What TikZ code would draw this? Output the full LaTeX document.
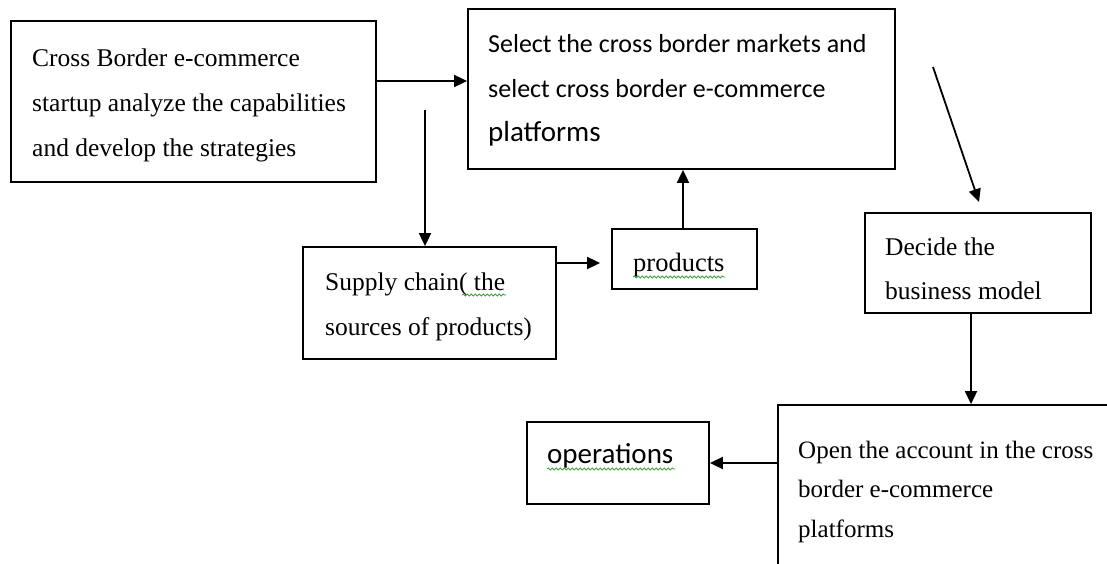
\documentclass[tikz,border=0pt]{standalone}
\usepackage{fontspec}
\setmainfont{Liberation Serif}
\newfontfamily\calibri{Carlito}
\usetikzlibrary{arrows.meta,decorations.pathmorphing}
\definecolor{squiggle}{HTML}{3DA33D}
\begin{document}
\begin{tikzpicture}[x=1pt,y=-1pt,
  box/.style={draw=black,line width=1.8pt,fill=none,inner sep=0pt},
  txt/.style={inner sep=0pt,anchor=base west},
  arr/.style={line width=1.8pt,-{Triangle[length=13pt,width=12pt]}},
  squig/.style={draw=squiggle,line width=0.8pt,decorate,
    decoration={snake,amplitude=1.1pt,segment length=4pt}}]
\fill[white] (0,0) rectangle (1107,564);
\useasboundingbox (0,0) rectangle (1107,564);

% boxes
\node[box,minimum width=365pt,minimum height=161pt] (A) at (193.5,101.5) {};
\node[box,minimum width=427pt,minimum height=160pt] (B) at (681.5,89) {};
\node[box,minimum width=226pt,minimum height=100pt] (C) at (978,263) {};
\node[box,minimum width=342pt,minimum height=175pt] (D) at (949,492.5) {};
\node[box,minimum width=253pt,minimum height=112pt] (E) at (429.5,303) {};
\node[box,minimum width=145pt,minimum height=60pt] (F) at (684.5,259) {};
\node[box,minimum width=182pt,minimum height=82pt] (Ops) at (618,463) {};

% texts
\node[txt] (At) at (32,67) {\parbox[t]{500pt}{\raggedright\fontsize{25.5}{45}\selectfont
  Cross Border e-commerce\\ startup analyze the capabilities\\ and develop the strategies}};
\node[txt] (Bt) at (488,53) {\parbox[t]{500pt}{\raggedright\calibri\fontsize{26}{45}\selectfont
  Select the cross border markets and\\ select cross border e-commerce\\[-1pt]
  {\fontsize{29}{45}\selectfont platforms}}};
\node[txt] (Ct) at (885,255) {\parbox[t]{500pt}{\raggedright\fontsize{25.5}{44}\selectfont
  Decide the\\ business model}};
\node[txt] (Dt) at (798,458) {\parbox[t]{500pt}{\raggedright\fontsize{25}{39.5}\selectfont
  Open the account in the cross\\ border e-commerce\\ platforms}};
\node[txt] (Et) at (325,290) {\parbox[t]{500pt}{\raggedright\fontsize{25.5}{45}\selectfont
  Supply chain( the\\ sources of products)}};
\node[txt] (Ft) at (633,271) {\fontsize{26.5}{30}\selectfont products};
\node[txt] (Opst) at (547,463) {\calibri\fontsize{29}{34}\selectfont operations};

% spelling underlines
\draw[squig] (633,277) -- (725,277);
\draw[squig] (462,295) -- (506,295);
\draw[squig] (547,469) -- (675,469);

% connectors
\coordinate (s1) at (425,110);
\coordinate (d1) at (933,67);
\coordinate (d2) at (979,202);
\draw[arr] ([yshift=20.5pt]A.east) -- ([yshift=20.5pt]A.east -| B.west);
\draw[arr] (s1) -- (s1 |- E.north);
\draw[arr,shorten >=11pt] ([yshift=40pt]E.east) -- ([yshift=40pt]E.east -| F.west);
\draw[arr] ([xshift=-1.5pt]F.north) -- ([xshift=-1.5pt]F.north |- B.south);
\draw[arr] (d1) -- (d2);
\draw[arr] ([xshift=-7pt]C.south) -- ([xshift=-7pt]C.south |- D.north);
\draw[arr] (D.west |- Ops.east) -- (Ops.east);
\end{tikzpicture}
\end{document}
